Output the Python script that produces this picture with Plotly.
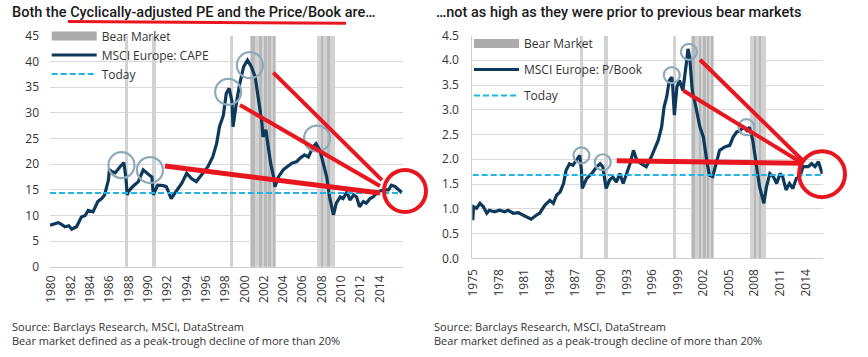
import plotly.graph_objects as go

# ---------------- data ----------------
cape_year = [1979.85, 1980.2, 1980.7, 1981.0, 1981.4, 1981.8, 1982.1, 1982.6, 1983.1, 1983.5,
             1983.8, 1984.3, 1984.8, 1985.2, 1985.5, 1985.9, 1986.0, 1986.3, 1986.6, 1987.1,
             1987.5, 1987.7, 1987.85, 1987.95, 1988.4, 1989.0, 1989.5, 1990.0, 1990.4, 1990.55,
             1991.0, 1991.6, 1991.9, 1992.4, 1992.9, 1993.5, 1994.0, 1994.5, 1995.0, 1995.5,
             1996.2, 1996.7, 1997.1, 1997.4, 1997.8, 1998.1, 1998.4, 1998.7, 1998.8, 1999.2,
             1999.5, 1999.9, 2000.3, 2000.7, 2001.1, 2001.4, 2001.8, 2001.9, 2002.2, 2002.4,
             2002.7, 2003.0, 2003.15, 2003.5, 2004.0, 2004.4, 2004.9, 2005.4, 2005.7, 2006.2,
             2006.6, 2007.1, 2007.4, 2007.8, 2008.1, 2008.5, 2008.8, 2009.2, 2009.5, 2009.9,
             2010.2, 2010.6, 2010.9, 2011.3, 2011.6, 2011.9, 2012.3, 2012.6, 2013.0, 2013.3,
             2013.8, 2014.4, 2014.9, 2015.2, 2015.6, 2015.9, 2016.3]
cape_value = [8.1, 8.3, 8.6, 8.3, 7.8, 8.0, 7.3, 7.8, 9.7, 10.0,
              11.0, 10.7, 12.7, 13.3, 14.0, 16.9, 18.9, 18.5, 18.3, 19.5,
              20.3, 17.5, 14.0, 14.6, 15.6, 16.6, 18.9, 18.1, 17.5, 14.0,
              15.9, 15.8, 15.6, 13.3, 14.6, 16.3, 18.2, 17.2, 16.6, 17.9,
              19.5, 21.4, 24.0, 27.3, 29.5, 33.8, 34.8, 32.2, 27.3, 32.5,
              35.7, 39.0, 40.3, 39.0, 37.0, 33.1, 28.0, 25.3, 26.7, 24.0,
              20.2, 17.5, 15.6, 17.5, 18.9, 19.5, 20.2, 20.5, 21.1, 21.8,
              21.4, 23.4, 24.0, 22.7, 20.2, 17.5, 13.6, 10.1, 12.4, 13.6,
              13.3, 14.6, 13.0, 14.0, 13.6, 11.7, 12.7, 12.4, 13.3, 13.6,
              14.6, 15.0, 15.0, 15.9, 15.6, 15.0, 14.4]
cape_today = 14.4

pb_year = [1974.95, 1975.05, 1975.4, 1975.8, 1976.2, 1976.6, 1976.9, 1977.5, 1978.1, 1978.7,
           1979.1, 1979.7, 1980.3, 1980.9, 1981.4, 1981.8, 1982.4, 1982.8, 1983.4, 1984.0,
           1984.4, 1984.8, 1985.2, 1985.6, 1985.9, 1986.3, 1986.7, 1987.1, 1987.5, 1987.7,
           1987.8, 1988.3, 1988.9, 1989.5, 1989.9, 1990.2, 1990.6, 1991.0, 1991.4, 1991.8,
           1992.2, 1992.6, 1993.0, 1993.4, 1993.8, 1994.2, 1994.7, 1995.3, 1995.9, 1996.3,
           1996.7, 1997.1, 1997.4, 1997.7, 1998.0, 1998.3, 1998.4, 1998.6, 1998.9, 1999.2,
           1999.6, 2000.0, 2000.2, 2000.4, 2000.7, 2001.2, 2001.6, 2002.0, 2002.2, 2002.4,
           2002.7, 2003.1, 2003.5, 2003.9, 2004.5, 2005.1, 2005.5, 2005.9, 2006.3, 2006.7,
           2007.1, 2007.4, 2007.8, 2008.1, 2008.6, 2009.1, 2009.4, 2009.8, 2010.2, 2010.6,
           2011.0, 2011.3, 2011.7, 2012.1, 2012.5, 2012.9, 2013.3, 2013.7, 2014.3, 2014.7,
           2015.1, 2015.5, 2015.95]
pb_value = [0.77, 1.04, 1.01, 1.11, 1.04, 0.91, 0.97, 0.94, 0.97, 0.94,
            0.97, 0.91, 0.92, 0.87, 0.84, 0.79, 0.87, 0.91, 1.07, 1.17,
            1.11, 1.28, 1.34, 1.51, 1.78, 1.91, 1.88, 1.98, 2.08, 1.78,
            1.41, 1.61, 1.71, 1.85, 1.91, 1.85, 1.41, 1.58, 1.64, 1.54,
            1.71, 1.51, 1.71, 1.91, 2.18, 1.98, 1.91, 1.85, 2.05, 2.22,
            2.38, 2.65, 3.06, 3.26, 3.59, 3.66, 3.49, 2.89, 3.46, 3.59,
            3.39, 3.93, 4.23, 4.06, 3.39, 2.99, 2.65, 2.45, 2.18, 1.98,
            1.68, 1.65, 1.91, 2.18, 2.25, 2.28, 2.45, 2.55, 2.58, 2.65,
            2.58, 2.65, 2.38, 2.05, 1.44, 1.11, 1.44, 1.71, 1.65, 1.51,
            1.71, 1.65, 1.38, 1.51, 1.41, 1.61, 1.65, 1.85, 1.85, 1.91,
            1.85, 1.95, 1.71]
pb_today = 1.68

bear_start = [1987.6, 1990.4, 1998.5, 2000.6, 2007.5]
bear_end = [1987.95, 1990.8, 1998.8, 2003.3, 2009.4]
bear_dark_start = [2000.7, 2001.5, 2002.1, 2002.5, 2003.0, 2008.0, 2008.55]
bear_dark_end = [2001.1, 2001.8, 2002.3, 2002.7, 2003.15, 2008.15, 2008.85]

cape_ticks = list(range(1980, 2015, 2))
pb_ticks = list(range(1975, 2015, 3))

# highlighted peaks (year, value)
cape_peaks = [(1987.25, 19.8), (1990.2, 18.85), (1998.3, 34.1), (2000.55, 39.3), (2007.5, 25.0)]
pb_peaks = [(1987.7, 2.08), (1990.2, 1.94), (1998.3, 3.70), (2000.3, 4.17), (2007.05, 2.65)]
# hand-drawn red arrows (start year, start value, end year, end value, width)
cape_arrows = [(2002.97, 37.85, 2014.22, 16.9, 4), (1999.52, 31.55, 2014.02, 15.74, 4),
               (1991.76, 19.64, 2014.02, 14.38, 5)]
pb_arrows = [(2001.61, 4.01, 2013.63, 1.98, 4), (1999.65, 3.39, 2013.63, 1.92, 4),
             (1991.84, 1.97, 2013.63, 1.92, 5)]
cape_ring = (2016.61, 14.77)
pb_ring = (2015.92, 1.70)

# ---------------- layout geometry ----------------
W, H = 868, 357
L = dict(xr=[1979.85, 2016.35], yr=[0, 45], xd=[50 / W, 402.5 / W], yd=[1 - 266.7 / H, 1 - 36 / H])
R = dict(xr=[1974.9, 2016.0], yr=[0, 4.5], xd=[472.3 / W, 822.7 / W], yd=[1 - 258.3 / H, 1 - 35.5 / H])


def to_paper(ax, xv, yv):
    px = ax['xd'][0] + (xv - ax['xr'][0]) / (ax['xr'][1] - ax['xr'][0]) * (ax['xd'][1] - ax['xd'][0])
    py = ax['yd'][0] + (yv - ax['yr'][0]) / (ax['yr'][1] - ax['yr'][0]) * (ax['yd'][1] - ax['yd'][0])
    return px, py


NAVY = '#0d3a5c'
CYAN = '#22b4e6'
BEAR = '#d2d2d2'
BEAR_DARK = '#b8b8b8'
RED = '#e8161e'
RING = '#8eaab9'
FONT = 'Open Sans'
TFONT = 'Roboto'

fig = go.Figure()


def add_panel(years, values, today, ymax, xa, ya, legend, name):
    mids = [(s + e) / 2 for s, e in zip(bear_start, bear_end)]
    wids = [e - s for s, e in zip(bear_start, bear_end)]
    fig.add_trace(go.Bar(x=mids, y=[ymax] * len(mids), width=wids, base=0, marker_color=BEAR,
                         marker_line_width=0, showlegend=False, xaxis=xa, yaxis=ya, hoverinfo='skip'))
    dm = [(s + e) / 2 for s, e in zip(bear_dark_start, bear_dark_end)]
    dw = [e - s for s, e in zip(bear_dark_start, bear_dark_end)]
    fig.add_trace(go.Bar(x=dm, y=[ymax] * len(dm), width=dw, base=0, marker_color=BEAR_DARK,
                         marker_line_width=0, showlegend=False, xaxis=xa, yaxis=ya, hoverinfo='skip'))
    # legend proxy for bear market
    fig.add_trace(go.Scatter(x=[None], y=[None], mode='lines', name='Bear Market',
                             line=dict(color='#ababab', width=9), xaxis=xa, yaxis=ya,
                             legend=legend, legendgroup=legend + 'a'))
    fig.add_trace(go.Scatter(x=years, y=values, mode='lines', name=name,
                             line=dict(color=NAVY, width=3.2), xaxis=xa, yaxis=ya,
                             legend=legend, legendgroup=legend + 'b'))
    fig.add_trace(go.Scatter(x=[years[0], years[-1]], y=[today, today], mode='lines', name='Today',
                             line=dict(color=CYAN, width=2, dash='6px,3px'), xaxis=xa, yaxis=ya,
                             legend=legend, legendgroup=legend + 'c'))


add_panel(cape_year, cape_value, cape_today, 45, 'x', 'y', 'legend', 'MSCI Europe: CAPE')
add_panel(pb_year, pb_value, pb_today, 4.5, 'x2', 'y2', 'legend2', 'MSCI Europe: P/Book')

shapes = []


def ring(ax, xv, yv, rpx, color, width):
    cx, cy = to_paper(ax, xv, yv)
    shapes.append(dict(type='circle', xref='paper', yref='paper', x0=cx - rpx / W, x1=cx + rpx / W,
                       y0=cy - rpx / H, y1=cy + rpx / H, line=dict(color=color, width=width),
                       layer='above'))


for xv, yv in cape_peaks:
    ring(L, xv, yv, 13, RING, 2.2)
for xv, yv in pb_peaks:
    ring(R, xv, yv, 8, RING, 2.2)
for ax, arrows in ((L, cape_arrows), (R, pb_arrows)):
    for x0, y0, x1, y1, w in arrows:
        a0 = to_paper(ax, x0, y0)
        a1 = to_paper(ax, x1, y1)
        shapes.append(dict(type='line', xref='paper', yref='paper', x0=a0[0], y0=a0[1], x1=a1[0], y1=a1[1],
                           line=dict(color=RED, width=w), layer='above'))
ring(L, cape_ring[0], cape_ring[1], 21, RED, 4)
ring(R, pb_ring[0], pb_ring[1], 23, RED, 4)
# underline in title
shapes.append(dict(type='line', xref='paper', yref='paper', x0=68 / W, y0=1 - 21.5 / H, x1=346 / W,
                   y1=1 - 23.3 / H, line=dict(color=RED, width=3), layer='above'))

axis_common = dict(showgrid=True, gridcolor='#d9d9d9', gridwidth=1, zeroline=False,
                   tickfont=dict(family=FONT, size=12, color='#333333'), fixedrange=True)

fig.update_layout(
    width=W, height=H, margin=dict(l=0, r=0, t=0, b=0),
    paper_bgcolor='white', plot_bgcolor='white',
    barmode='overlay', bargap=0, showlegend=True,
    font=dict(family=FONT, size=12, color='#333333'),
    xaxis=dict(domain=L['xd'], range=L['xr'], tickvals=cape_ticks, tickangle=-90, showgrid=False,
               showline=True, linecolor='#cccccc', anchor='y', automargin=False, ticklabelstandoff=3,
               zeroline=False, tickfont=axis_common['tickfont']),
    yaxis=dict(domain=L['yd'], range=L['yr'], dtick=5, anchor='x', automargin=False,
               ticklabelstandoff=10, **axis_common),
    xaxis2=dict(domain=R['xd'], range=R['xr'], tickvals=pb_ticks, tickangle=-90, showgrid=False,
                showline=True, linecolor='#cccccc', anchor='y2', automargin=False, ticklabelstandoff=5,
                zeroline=False, tickfont=axis_common['tickfont']),
    yaxis2=dict(domain=R['yd'], range=R['yr'], dtick=0.5, tickformat='.1f', anchor='x2', automargin=False,
                showline=True, linecolor='#cccccc', ticklabelstandoff=10, **axis_common),
    legend=dict(x=46.7 / W, y=1 - 21.5 / H, xanchor='left', yanchor='top', bgcolor='rgba(0,0,0,0)',
                itemwidth=45, tracegroupgap=0, font=dict(family=FONT, size=12, color='#333333')),
    legend2=dict(x=469 / W, y=1 - 29 / H, xanchor='left', yanchor='top', bgcolor='rgba(0,0,0,0)',
                 itemwidth=45, tracegroupgap=7, font=dict(family=FONT, size=12, color='#333333')),
    shapes=shapes,
    annotations=[
        dict(text='Both the Cyclically-adjusted PE and the Price/Book are…', x=10 / W, y=1 - 13 / H,
             xref='paper', yref='paper', xanchor='left', yanchor='middle', showarrow=False,
             font=dict(family=TFONT, size=14.5, color='#1a1a1a', weight=500)),
        dict(text='…not as high as they were prior to previous bear markets', x=434 / W, y=1 - 13 / H,
             xref='paper', yref='paper', xanchor='left', yanchor='middle', showarrow=False,
             font=dict(family=TFONT, size=14.5, color='#1a1a1a', weight=500)),
        dict(text='Source: Barclays Research, MSCI, DataStream<br>Bear market defined as a peak-trough decline of more than 20%',
             x=10 / W, y=1 - 333 / H, xref='paper', yref='paper', xanchor='left', yanchor='middle',
             align='left', showarrow=False, font=dict(family=FONT, size=11, color='#333333')),
        dict(text='Source: Barclays Research, MSCI, DataStream<br>Bear market defined as a peak-trough decline of more than 20%',
             x=432 / W, y=1 - 333 / H, xref='paper', yref='paper', xanchor='left', yanchor='middle',
             align='left', showarrow=False, font=dict(family=FONT, size=11, color='#333333')),
    ],
)

fig.write_html('out.html', config={'displayModeBar': False},
               post_script="document.body.style.margin='0';document.body.style.overflow='hidden';")
